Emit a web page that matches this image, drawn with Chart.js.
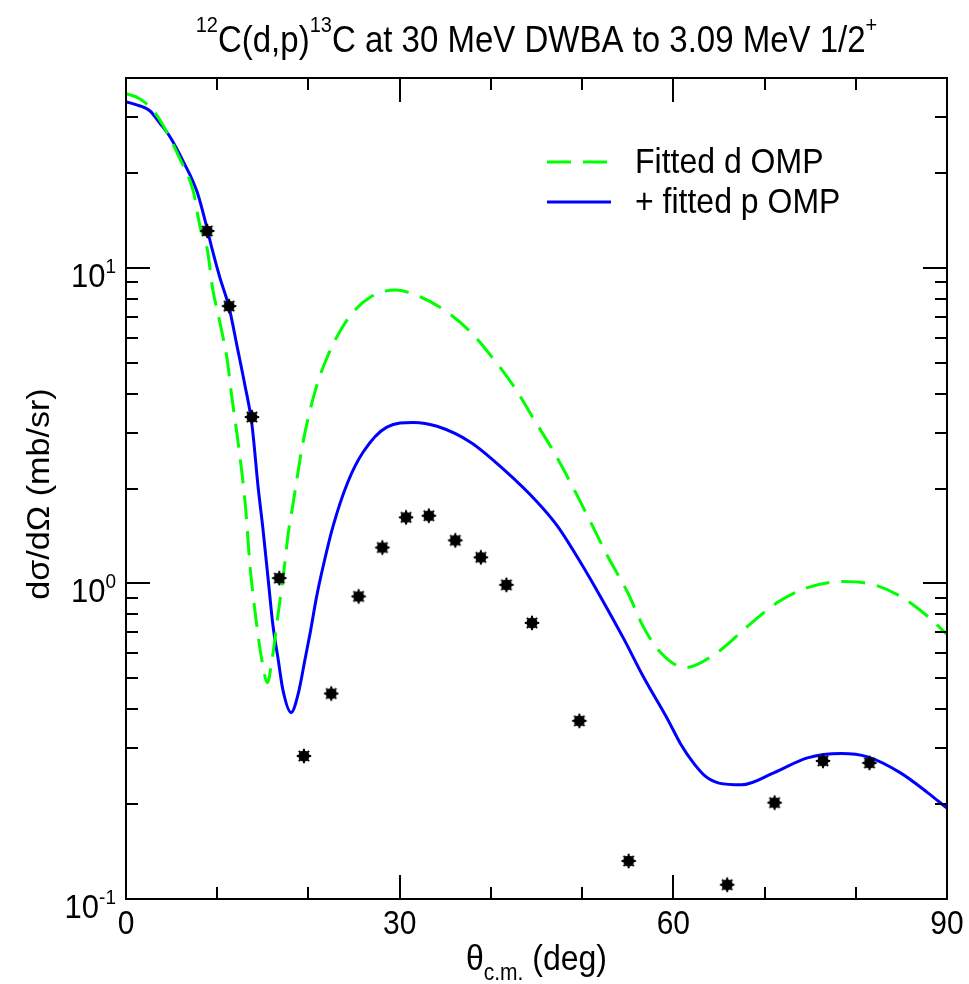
<!DOCTYPE html>
<html>
<head>
<meta charset="utf-8">
<title>12C(d,p)13C DWBA</title>
<script src="https://cdn.jsdelivr.net/npm/chart.js@4.4.1/dist/chart.umd.min.js"></script>
<style>
  html, body { margin: 0; padding: 0; background: #ffffff; }
  #plot { display: block; }
</style>
</head>
<body>
<canvas id="plot" width="969" height="984"></canvas>
<script>
// ---- Data -------------------------------------------------------------
// Measured cross sections (theta_cm in deg, dsigma/dOmega in mb/sr)
const expAngle = [8.9, 11.3, 13.8, 16.8, 19.5, 22.5, 25.5, 28.1, 30.7, 33.2,
                  36.1, 38.9, 41.7, 44.5, 49.7, 55.1, 65.9, 71.1, 76.4, 81.5];
const expSigma = [13.1, 7.57, 3.37, 1.04, 0.284, 0.448, 0.91, 1.30, 1.62, 1.64,
                  1.37, 1.21, 0.99, 0.75, 0.367, 0.132, 0.111, 0.202, 0.274, 0.270];

// DWBA with fitted deuteron optical potential
const dAngle = [0, 1.5, 3.0, 4.1, 5.9, 7.4, 8.1, 8.9, 9.5, 10.3, 11.1, 11.6, 12.2, 12.7,
                13.1, 13.6, 14.3, 14.9, 15.5, 16.0, 16.7, 17.2, 17.8, 18.3, 19.4, 20.7,
                22.1, 24.3, 26.8, 29.5, 32.3, 35.2, 37.8, 40.3, 42.5, 44.7, 46.9, 49.1,
                51.0, 52.8, 55.0, 56.7, 58.6, 61.3, 64.8, 68.1, 71.4, 74.7, 78.7, 82.0,
                84.9, 87.9, 90.0];
const dSigma = [35.7, 34.4, 31.5, 28.2, 22.2, 17.4, 13.6, 11.5, 8.6, 6.7, 5.1, 3.9, 2.93, 2.25,
                1.75, 1.13, 0.75, 0.57, 0.485, 0.57, 0.81, 1.03, 1.45, 1.78, 2.8, 4.04,
                5.25, 6.89, 8.09, 8.51, 8.09, 7.25, 6.26, 5.14, 4.22, 3.32, 2.61, 1.99,
                1.55, 1.22, 0.936, 0.73, 0.604, 0.541, 0.604, 0.73, 0.87, 0.97, 1.015, 0.99,
                0.91, 0.786, 0.689];

// DWBA with fitted deuteron and proton optical potentials
const pAngle = [0, 1.0, 2.6, 3.7, 4.8, 6.3, 7.8, 8.9, 9.4, 10.3, 11.3, 12.2, 13.0, 13.8,
                14.5, 15.0, 15.6, 16.1, 16.7, 17.2, 18.1, 18.9, 19.6, 20.2, 20.9, 21.6,
                22.7, 24.3, 26.0, 28.6, 31.5, 34.1, 37.8, 41.4, 45.1, 47.3, 49.8, 52.0,
                54.6, 56.7, 59.4, 60.8, 62.2, 63.5, 65.0, 67.5, 71.0, 74.7, 78.4, 81.3,
                84.9, 87.9, 90.0];
const pSigma = [33.6, 33.0, 31.5, 28.8, 26.1, 21.7, 17.4, 13.3, 11.6, 9.3, 7.5, 5.6, 4.3, 3.2,
                2.0, 1.5, 1.02, 0.74, 0.57, 0.46, 0.39, 0.45, 0.57, 0.70, 0.91, 1.13,
                1.52, 2.09, 2.61, 3.13, 3.24, 3.15, 2.80, 2.30, 1.81, 1.52, 1.17, 0.91,
                0.665, 0.507, 0.37, 0.31, 0.27, 0.245, 0.233, 0.230, 0.251, 0.28, 0.289, 0.282,
                0.251, 0.217, 0.194];

// Axis ticks and labels
const xMajorTicks = [0, 30, 60, 90];
const xTickLabels = ['0', '30', '60', '90'];
const xMinorTicks = [10, 20, 40, 50, 70, 80];
const yMajorTicks = [0.1, 1, 10];
const yTickExponents = ['-1', '0', '1'];
const yMinorTicks = [0.2, 0.3, 0.4, 0.5, 0.6, 0.7, 0.8, 0.9,
                     2, 3, 4, 5, 6, 7, 8, 9, 20, 30];

const seriesNames = ['Fitted d OMP', '+ fitted p OMP'];

// ---- Helpers ----------------------------------------------------------
const FONT = '"Liberation Sans", Arial, Helvetica, sans-serif';
const SY = 1.1;   // glyphs are drawn slightly tall

function toPoints(xs, ys) { return xs.map((x, i) => ({ x: x, y: ys[i] })); }

// Draw a sequence of text runs (for super/subscripts) on one baseline.
function drawRuns(ctx, x, y, runs, align) {
  let total = 0;
  runs.forEach(r => {
    ctx.font = r.size + 'px ' + FONT;
    r.w = ctx.measureText(r.text).width;
    total += r.w;
  });
  const x0 = align === 'center' ? x - total / 2 : (align === 'right' ? x - total : x);
  ctx.save();
  ctx.translate(x0, y);
  ctx.scale(1, SY);
  ctx.textAlign = 'left';
  ctx.textBaseline = 'alphabetic';
  ctx.fillStyle = '#000';
  let cx = 0;
  runs.forEach(r => {
    ctx.font = r.size + 'px ' + FONT;
    ctx.fillText(r.text, cx, -(r.rise || 0));
    cx += r.w;
  });
  ctx.restore();
}

// Filled star-like marker for data points
function makeMarker() {
  const c = document.createElement('canvas');
  c.width = 18; c.height = 18;
  const g = c.getContext('2d');
  g.fillStyle = '#000';
  g.beginPath(); g.arc(9, 9, 5.6, 0, 2 * Math.PI); g.fill();
  g.strokeStyle = '#000'; g.lineWidth = 2;
  for (let i = 0; i < 8; i++) {
    const a = i * Math.PI / 4;
    g.beginPath(); g.moveTo(9, 9);
    g.lineTo(9 + 7.2 * Math.cos(a), 9 + 7.2 * Math.sin(a)); g.stroke();
  }
  return c;
}

// ---- Frame, inward ticks, labels, title and legend ---------------------
const framePlugin = {
  id: 'frame',
  afterDraw(chart) {
    const ctx = chart.ctx;
    const a = chart.chartArea;
    const xs = chart.scales.x, ys = chart.scales.y;
    const MAJ = 24, MIN = 12;

    ctx.save();
    ctx.strokeStyle = '#000';
    ctx.lineWidth = 2;
    ctx.lineCap = 'butt';

    const tick = (x1, y1, x2, y2) => { ctx.beginPath(); ctx.moveTo(x1, y1); ctx.lineTo(x2, y2); ctx.stroke(); };

    xMajorTicks.forEach(v => {
      const px = Math.round(xs.getPixelForValue(v));
      tick(px, a.bottom, px, a.bottom - MAJ);
      tick(px, a.top, px, a.top + MAJ);
    });
    xMinorTicks.forEach(v => {
      const px = Math.round(xs.getPixelForValue(v));
      tick(px, a.bottom, px, a.bottom - MIN);
      tick(px, a.top, px, a.top + MIN);
    });
    yMajorTicks.forEach(v => {
      const py = Math.round(ys.getPixelForValue(v));
      tick(a.left, py, a.left + MAJ, py);
      tick(a.right, py, a.right - MAJ, py);
    });
    yMinorTicks.forEach(v => {
      const py = Math.round(ys.getPixelForValue(v));
      tick(a.left, py, a.left + MIN, py);
      tick(a.right, py, a.right - MIN, py);
    });

    ctx.strokeRect(a.left, a.top, a.right - a.left, a.bottom - a.top);

    // x tick labels
    xMajorTicks.forEach((v, i) => {
      drawRuns(ctx, xs.getPixelForValue(v), a.bottom + 35, [{ text: xTickLabels[i], size: 30 }], 'center');
    });
    // y tick labels: powers of ten
    yMajorTicks.forEach((v, i) => {
      const py = ys.getPixelForValue(v);
      drawRuns(ctx, a.left - 10, py + 19, [
        { text: '10', size: 31 },
        { text: yTickExponents[i], size: 19, rise: 13 }
      ], 'right');
    });

    // x axis title
    drawRuns(ctx, (a.left + a.right) / 2, 970, [
      { text: 'θ', size: 32 },
      { text: 'c.m.', size: 21, rise: -9 },
      { text: ' (deg)', size: 32 }
    ], 'center');

    // y axis title (rotated)
    ctx.save();
    ctx.translate(40, 494);
    ctx.scale(1, SY);
    ctx.rotate(-Math.PI / 2);
    ctx.font = '31px ' + FONT;
    ctx.fillStyle = '#000';
    ctx.textAlign = 'center';
    ctx.textBaseline = 'middle';
    ctx.fillText('dσ/dΩ (mb/sr)', 0, 0);
    ctx.restore();

    // chart title
    drawRuns(ctx, (a.left + a.right) / 2, 52, [
      { text: '12', size: 20, rise: 18 },
      { text: 'C(d,p)', size: 33 },
      { text: '13', size: 20, rise: 18 },
      { text: 'C at 30 MeV DWBA to 3.09 MeV 1/2', size: 33 },
      { text: '+', size: 20, rise: 18 }
    ], 'center');

    // legend
    const ds = chart.data.datasets;
    const rows = [ds[1], ds[2]];
    rows.forEach((d, i) => {
      const ly = 162 + i * 40;
      ctx.save();
      ctx.strokeStyle = d.borderColor;
      ctx.lineWidth = d.borderWidth;
      ctx.setLineDash(d.borderDash || []);
      ctx.beginPath(); ctx.moveTo(547, ly); ctx.lineTo(611, ly); ctx.stroke();
      ctx.restore();
      drawRuns(ctx, 635, ly + 11, [{ text: d.label, size: 32 }], 'left');
    });

    ctx.restore();
  }
};

// ---- Chart ------------------------------------------------------------
const marker = makeMarker();

new Chart(document.getElementById('plot'), {
  type: 'scatter',
  data: {
    datasets: [
      {
        label: 'data',
        data: toPoints(expAngle, expSigma),
        pointStyle: marker,
        pointRadius: 9,
        showLine: false
      },
      {
        label: seriesNames[0],
        data: toPoints(dAngle, dSigma),
        showLine: true,
        borderColor: '#00ff00',
        borderWidth: 3,
        borderDash: [24, 12],
        pointRadius: 0,
        cubicInterpolationMode: 'monotone',
        fill: false
      },
      {
        label: seriesNames[1],
        data: toPoints(pAngle, pSigma),
        showLine: true,
        borderColor: '#0000ff',
        borderWidth: 3,
        pointRadius: 0,
        cubicInterpolationMode: 'monotone',
        fill: false
      }
    ]
  },
  options: {
    responsive: false,
    devicePixelRatio: 1,
    animation: false,
    events: [],
    layout: { padding: { left: 126, top: 78, right: 22, bottom: 85 } },
    plugins: { legend: { display: false }, tooltip: { enabled: false }, title: { display: false } },
    scales: {
      x: { type: 'linear', min: 0, max: 90, display: false },
      y: { type: 'logarithmic', min: 0.1, max: 40, display: false }
    }
  },
  plugins: [framePlugin]
});
</script>
</body>
</html>
